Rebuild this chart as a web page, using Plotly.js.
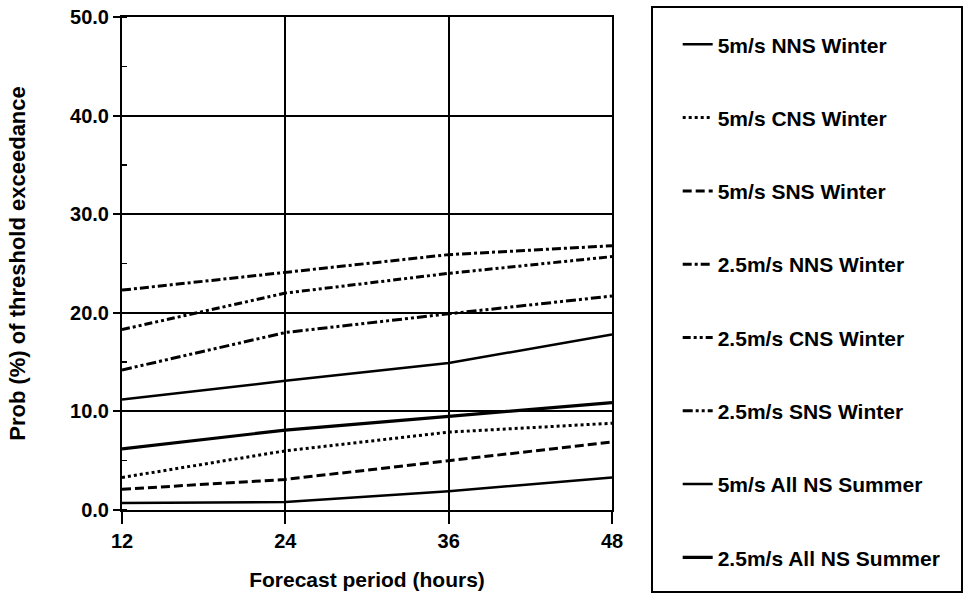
<!DOCTYPE html>
<html>
<head>
<meta charset="utf-8">
<script src="https://cdn.plot.ly/plotly-3.0.1.min.js"></script>
<style>
html,body{margin:0;padding:0;background:#fff;}
#chart{width:964px;height:604px;}
</style>
</head>
<body>
<div id="chart"></div>
<script>
// Forecast period (hours)
var hours = [12, 24, 36, 48];

// Probability (%) of threshold exceedance
var nns5Winter   = [11.2, 13.1, 14.9, 17.8];
var cns5Winter   = [3.3, 6.0, 7.9, 8.8];
var sns5Winter   = [2.1, 3.1, 5.0, 6.9];
var nns25Winter  = [22.3, 24.1, 25.9, 26.8];
var cns25Winter  = [18.3, 22.0, 24.0, 25.7];
var sns25Winter  = [14.2, 18.0, 19.9, 21.7];
var allNs5Summer  = [0.7, 0.8, 1.9, 3.3];
var allNs25Summer = [6.2, 8.1, 9.5, 10.9];

var seriesNames = [
  "5m/s NNS Winter", "5m/s CNS Winter", "5m/s SNS Winter",
  "2.5m/s NNS Winter", "2.5m/s CNS Winter", "2.5m/s SNS Winter",
  "5m/s All NS Summer", "2.5m/s All NS Summer"
];
var seriesValues = [
  nns5Winter, cns5Winter, sns5Winter,
  nns25Winter, cns25Winter, sns25Winter,
  allNs5Summer, allNs25Summer
];
var yTickVals = [0, 10, 20, 30, 40, 50];
var xTickVals = [12, 24, 36, 48];

var dashes = ["solid", "dot", "9px,4px", "9px,3px,3px,3px", "8px,3px,3px,3px,3px,3px", "10px,3px,3px,3px,3px,3px", "solid", "solid"];
var widths = [2.5, 3, 3, 3, 3, 3, 2.5, 3.2];

var FONT = "Liberation Sans, Arial, Helvetica, sans-serif";

var traces = seriesNames.map(function(name, i) {
  return {
    type: "scatter",
    mode: "lines",
    x: hours,
    y: seriesValues[i],
    name: name,
    legendgroup: "g" + i,
    line: {color: "#000", width: widths[i], dash: dashes[i]},
    hoverinfo: "x+y+name"
  };
});

var layout = {
  width: 964,
  height: 604,
  margin: {l: 122, r: 352, t: 17, b: 94},
  paper_bgcolor: "#fff",
  plot_bgcolor: "#fff",
  font: {family: FONT, color: "#000", size: 20, weight: "bold"},
  showlegend: true,
  legend: {
    xref: "container", yref: "container",
    x: 0.703, y: 0.96, xanchor: "left", yanchor: "top",
    bgcolor: "rgba(0,0,0,0)",
    borderwidth: 0,
    tracegroupgap: 43,
    maxheight: 600,
    font: {family: FONT, size: 21, color: "#000", weight: "bold"},
    traceorder: "grouped"
  },
  xaxis: {
    range: [12, 48],
    tickvals: xTickVals,
    ticktext: xTickVals.map(String),
    showgrid: true, gridcolor: "#000", gridwidth: 2,
    showline: true, mirror: true, linecolor: "#000", linewidth: 2,
    ticks: "outside", ticklen: 12, tickwidth: 2, tickcolor: "#000",
    zeroline: false,
    tickfont: {family: FONT, size: 20, weight: "bold"},
    title: {text: "Forecast period (hours)", font: {family: FONT, size: 21, weight: "bold"}, standoff: 21}
  },
  yaxis: {
    range: [0, 50],
    tickvals: yTickVals,
    tickformat: ".1f",
    showgrid: true, gridcolor: "#000", gridwidth: 2,
    showline: true, mirror: true, linecolor: "#000", linewidth: 2,
    ticks: "outside", ticklen: 7, tickwidth: 2, tickcolor: "#000",
    minor: {dtick: 5, ticks: "inside", ticklen: 5, tickwidth: 1.5, tickcolor: "#000", showgrid: false},
    zeroline: false,
    tickfont: {family: FONT, size: 20, weight: "bold"},
    title: {text: "Prob (%) of threshold exceedance", font: {family: FONT, size: 22, weight: "bold"}, standoff: 38}
  },
  shapes: [
    {type: "rect", xref: "paper", yref: "paper",
     x0: (652 - 122) / 490, x1: (962 - 122) / 490,
     y0: (510 - 592) / 493, y1: (510 - 7) / 493,
     line: {color: "#000", width: 2}, fillcolor: "rgba(0,0,0,0)", layer: "above"}
  ]
};

Plotly.newPlot("chart", traces, layout, {displayModeBar: false, staticPlot: true});
</script>
</body>
</html>
